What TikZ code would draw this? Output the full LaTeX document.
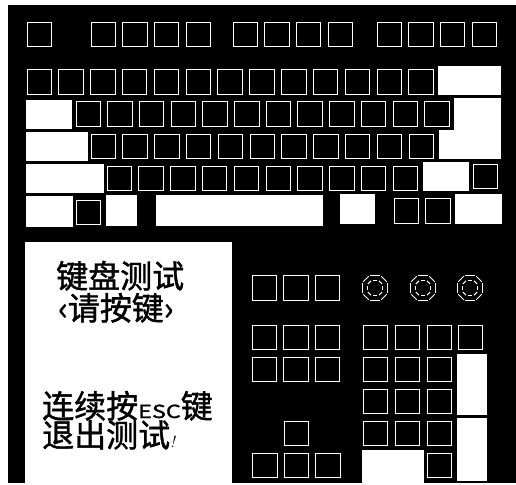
\documentclass[tikz,border=0pt]{standalone}
\usepackage{fontspec}
\usepackage{graphicx}
\newfontfamily\cjk{Noto Sans CJK SC}[RawFeature={embolden=1.3}]
\begin{document}
\begin{tikzpicture}[x=1pt,y=-1pt,
  keybox/.style={draw=white,line width=1pt},
  wblock/.style={fill=white},
  led/.style={draw=white,line width=1pt,shorten <=0.9pt,shorten >=0.9pt},
  cjktext/.style={inner sep=0pt,anchor=base west,text=black,font=\cjk\fontsize{32}{32}\selectfont}]
\useasboundingbox (0,0) rectangle (516,484);
\fill[white] (0,0) rectangle (516,484);
% black keyboard body
\fill[black] (8,5) rectangle (516,483);
% ---------- main keyboard ----------
% row 1 (function row)
\draw[keybox] (27,22.5) rectangle ++(24.5,24.5);
\foreach \g in {91,233,377}{
  \foreach \i in {0,...,3}{
    \draw[keybox] (\g+\i*31.7,22.5) rectangle ++(24.5,24.5);
  }
}
% row 2
\foreach \i in {0,...,12}{\draw[keybox] (27+\i*31.83,70) rectangle ++(24.5,24.5);}
\fill[wblock] (438,66) rectangle (501,95);
% row 3
\foreach \i in {0,...,11}{\draw[keybox] (76+\i*31.7,102) rectangle ++(24.5,24.5);}
\fill[wblock] (25.7,100) rectangle (72,129);
\fill[wblock] (454,98) rectangle (501,159);
\fill[wblock] (439,130) rectangle (501,159);
% row 4
\foreach \i in {0,...,10}{\draw[keybox] (91+\i*31.8,134) rectangle ++(24.5,24.5);}
\fill[wblock] (25.7,132) rectangle (88,161);
% row 5
\foreach \i in {0,...,9}{\draw[keybox] (107+\i*31.8,166) rectangle ++(24.5,24.5);}
\fill[wblock] (25.7,164) rectangle (104,193);
\fill[wblock] (423,162) rectangle (469,191);
\draw[keybox] (473,164) rectangle ++(24.5,24.5);
% row 6
\fill[wblock] (25.7,196) rectangle (73,227);
\draw[keybox] (76,200) rectangle ++(24.5,24.5);
\fill[wblock] (106,195) rectangle (137,226);
\fill[wblock] (156,195) rectangle (323,226);
\fill[wblock] (340,194) rectangle (375,224);
\draw[keybox] (394,198.5) rectangle ++(24.5,24.5);
\draw[keybox] (425.5,198.5) rectangle ++(24.5,24.5);
\fill[wblock] (455,194) rectangle (502,224);
% ---------- lower section ----------
\fill[white] (25,242) rectangle (232,483);
% editing block
\foreach \x in {252,283.5,315}{
  \draw[keybox] (\x,275.5) rectangle ++(24.5,25);
  \draw[keybox] (\x,325) rectangle ++(24.5,24.5);
  \draw[keybox] (\x,357) rectangle ++(24.5,24.5);
  \draw[keybox] (\x+0.8,453) rectangle ++(24.5,24.5);
}
\draw[keybox] (284,421) rectangle ++(24.5,24.5);
% LEDs
\foreach \cx in {375,423,470}{
  \foreach \a/\c in {12.5/5.5,7.8/3.3}{
    \draw[led] (\cx-\c,288-\a) -- (\cx+\c,288-\a);
    \draw[led] (\cx+\c,288-\a) -- (\cx+\a,288-\c);
    \draw[led] (\cx+\a,288-\c) -- (\cx+\a,288+\c);
    \draw[led] (\cx+\a,288+\c) -- (\cx+\c,288+\a);
    \draw[led] (\cx+\c,288+\a) -- (\cx-\c,288+\a);
    \draw[led] (\cx-\c,288+\a) -- (\cx-\a,288+\c);
    \draw[led] (\cx-\a,288+\c) -- (\cx-\a,288-\c);
    \draw[led] (\cx-\a,288-\c) -- (\cx-\c,288-\a);
  }
}
% numeric keypad
\foreach \x in {363,395,427}{
  \draw[keybox] (\x,325) rectangle ++(24.5,24.5);
  \draw[keybox] (\x,357) rectangle ++(24.5,24.5);
  \draw[keybox] (\x,389) rectangle ++(24.5,24.5);
  \draw[keybox] (\x,421) rectangle ++(24.5,24.5);
}
\draw[keybox] (458,325) rectangle ++(24.5,24.5);
\fill[wblock] (457,354) rectangle (487,415);
\fill[wblock] (457,418) rectangle (487,481);
\fill[wblock] (362,450) rectangle (424,484);
\draw[keybox] (427,453) rectangle ++(24.5,24.5);
% ---------- texts ----------
\node[cjktext] (t1) at (56,288) {键盘测试};
\node[cjktext] (t2) at (58,320) {‹请按键›};
\node[cjktext] (t3) at (42,418) {连续按{\fontsize{18}{18}\selectfont\scalebox{1.3}[1]{ESC}}键};
\node[cjktext] (t4) at (42,447) {退出测试{\rmfamily\itshape\fontsize{16}{16}\selectfont !}};
\end{tikzpicture}
\end{document}
